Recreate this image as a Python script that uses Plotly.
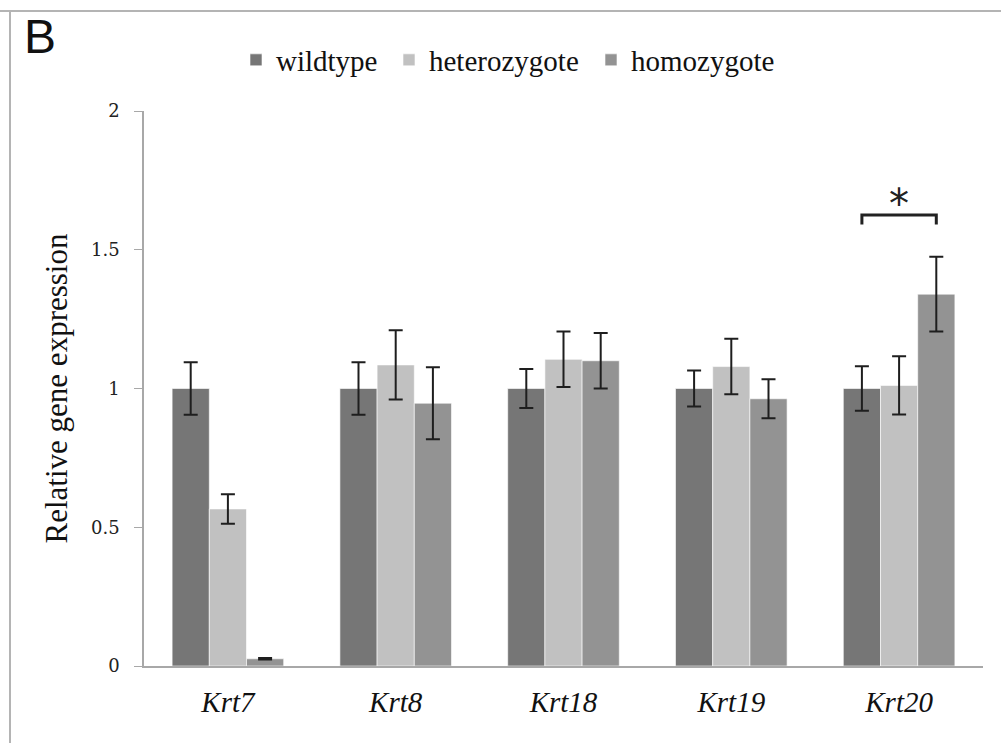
import plotly.graph_objects as go

genes = ["Krt7", "Krt8", "Krt18", "Krt19", "Krt20"]
gene_labels = ["<i>Krt7</i>", "<i>Krt8</i>", "<i>Krt18</i>", "<i>Krt19</i>", "<i>Krt20</i>"]

wildtype = [1.0, 1.0, 1.0, 1.0, 1.0]
wildtype_err = [0.095, 0.095, 0.07, 0.065, 0.08]
heterozygote = [0.566, 1.085, 1.105, 1.079, 1.011]
heterozygote_err = [0.053, 0.125, 0.10, 0.10, 0.105]
homozygote = [0.026, 0.947, 1.10, 0.963, 1.34]
homozygote_err = [0.003, 0.13, 0.10, 0.07, 0.135]

y_ticks = [0, 0.5, 1, 1.5, 2]
y_tick_labels = ["0", "0.5", "1", "1.5", "2"]

colors = {"wildtype": "#767676", "heterozygote": "#c1c1c1", "homozygote": "#939393"}

W, H = 1001, 743
L, R, T, B = 144, 18, 111, 77
pw = W - L - R
ph = H - T - B

fig = go.Figure()
series = [("wildtype", wildtype, wildtype_err, "legend"),
          ("heterozygote", heterozygote, heterozygote_err, "legend2"),
          ("homozygote", homozygote, homozygote_err, "legend3")]
for name, vals, errs, lg in series:
    fig.add_trace(go.Bar(
        x=list(range(len(genes))), y=vals, name=name, legend=lg,
        marker=dict(color=colors[name], line=dict(color="white", width=0.6)),
        error_y=dict(type="data", array=errs, visible=True,
                     color="#1e1e1e", thickness=2, width=7),
    ))

bargap = 0.335
bar_w = (1 - bargap) / 3
# significance bracket over Krt20 wildtype vs homozygote
gi = genes.index("Krt20")
x_left = gi - bar_w
x_right = gi + bar_w
top_val = max(homozygote[gi] + homozygote_err[gi], wildtype[gi] + wildtype_err[gi])
y_br = top_val + 0.15
y_leg = y_br - 0.034
fig.add_shape(type="path", xref="x", yref="y",
              path=f"M {x_left} {y_leg} L {x_left} {y_br} L {x_right} {y_br} L {x_right} {y_leg}",
              line=dict(color="#222222", width=3))
fig.add_annotation(x=gi, y=y_br, xref="x", yref="y", text="*",
                   showarrow=False, yanchor="bottom", yshift=-14,
                   font=dict(family="DejaVu Sans", size=40, color="#222222"))

# panel label
fig.add_annotation(x=(40 - L) / pw, y=1 + (T - 36) / ph, xref="paper", yref="paper",
                   text="B", showarrow=False, xanchor="center", yanchor="middle",
                   font=dict(family="Liberation Sans", size=48, color="#111111"))

# outer frame (top and left edges)
fig.add_shape(type="line", xref="paper", yref="paper",
              x0=-L / pw, x1=1 + R / pw, y0=1 + (T - 11) / ph, y1=1 + (T - 11) / ph,
              line=dict(color="#b4b4b4", width=2))
fig.add_shape(type="line", xref="paper", yref="paper",
              x0=(10 - L) / pw, x1=(10 - L) / pw, y0=1 + (T - 11) / ph, y1=-B / ph,
              line=dict(color="#b4b4b4", width=2))

legend_font = dict(family="Liberation Serif", size=29, color="#111111")
legend_y = 1 + (T - 60) / ph


def legend_at(px):
    return dict(orientation="h", x=(px - L) / pw, xanchor="left", y=legend_y,
                yanchor="middle", font=legend_font, itemwidth=30,
                tracegroupgap=0, itemclick=False, bgcolor="rgba(0,0,0,0)")


fig.update_layout(
    width=W, height=H,
    margin=dict(l=L, r=R, t=T, b=B, autoexpand=False),
    paper_bgcolor="white", plot_bgcolor="white",
    barmode="group", bargap=bargap, bargroupgap=0,
    font=dict(family="Liberation Serif", color="#111111"),
    showlegend=True,
    legend=legend_at(236),
    legend2=legend_at(389),
    legend3=legend_at(591),
    xaxis=dict(tickmode="array", tickvals=list(range(len(genes))), ticktext=gene_labels,
               range=[-0.5, len(genes) - 0.5], showline=True, linecolor="#a8a8a8",
               linewidth=2, ticks="", showgrid=False, zeroline=False,
               tickfont=dict(family="Liberation Serif", size=29, color="#111111"),
               ticklabelstandoff=9),
    yaxis=dict(range=[0, 2], tickmode="array", tickvals=y_ticks, ticktext=y_tick_labels,
               showline=True, linecolor="#a8a8a8", linewidth=1.5, ticks="outside",
               ticklen=8, tickcolor="#a8a8a8", showgrid=False, zeroline=False,
               tickfont=dict(family="DejaVu Serif", size=18, color="#222222"),
               ticklabelstandoff=11,
               title=dict(text="Relative gene expression", standoff=14,
                          font=dict(family="Liberation Serif", size=31, color="#111111"))),
)

fig.write_html(
    "out.html",
    config={"responsive": False, "displayModeBar": False},
    post_script="document.body.style.margin='0';document.body.style.overflow='hidden';",
)
